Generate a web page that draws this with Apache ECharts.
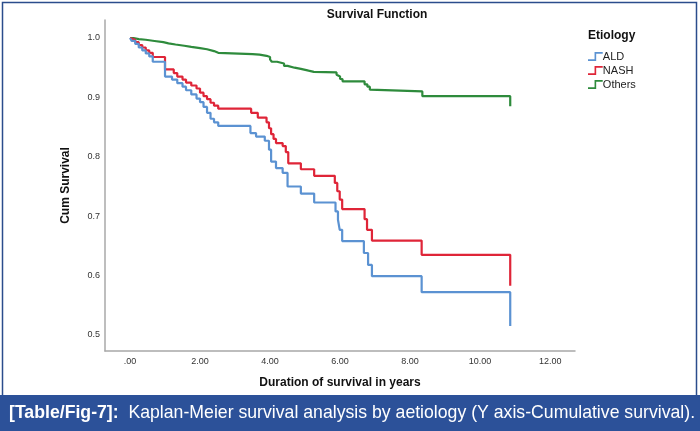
<!DOCTYPE html>
<html>
<head>
<meta charset="utf-8">
<script src="https://cdn.jsdelivr.net/npm/echarts@6/dist/echarts.min.js"></script>
<style>
html,body{margin:0;padding:0;background:#fff;}
#chart{width:700px;height:431px;}
</style>
</head>
<body>
<div id="chart"></div>
<script>
// ---- data (years, cumulative survival) ----
const seriesNames = ['ALD', 'NASH', 'Others'];
const aldTimes = [0, 0.05, 0.15, 0.25, 0.35, 0.45, 0.55, 0.65, 1.0, 1.2, 1.35, 1.5, 1.6, 1.75, 1.9, 2.0, 2.1, 2.2, 2.3, 2.4, 2.52, 3.44, 3.6, 3.85, 3.97, 4.03, 4.17, 4.36, 4.50, 4.88, 5.26, 5.87, 5.94, 5.99, 6.06, 6.68, 6.8, 6.91, 8.33, 10.86];
const aldSurv  = [1.0, 0.995, 0.990, 0.984, 0.979, 0.974, 0.969, 0.960, 0.935, 0.930, 0.924, 0.918, 0.912, 0.905, 0.898, 0.892, 0.884, 0.874, 0.864, 0.858, 0.852, 0.840, 0.834, 0.827, 0.812, 0.792, 0.781, 0.773, 0.750, 0.738, 0.723, 0.708, 0.694, 0.677, 0.658, 0.638, 0.618, 0.599, 0.572, 0.515];
const nashTimes = [0, 0.05, 0.15, 0.25, 0.35, 0.45, 0.55, 0.65, 1.0, 1.25, 1.35, 1.5, 1.6, 1.75, 1.9, 2.0, 2.1, 2.2, 2.3, 2.4, 2.52, 3.46, 3.65, 3.9, 3.97, 4.03, 4.1, 4.17, 4.36, 4.45, 4.52, 4.88, 5.26, 5.85, 5.92, 5.99, 6.06, 6.70, 6.77, 6.91, 8.33, 10.86];
const nashSurv  = [1.0, 0.997, 0.993, 0.988, 0.984, 0.979, 0.975, 0.968, 0.947, 0.941, 0.935, 0.930, 0.925, 0.920, 0.915, 0.908, 0.902, 0.897, 0.891, 0.886, 0.881, 0.874, 0.866, 0.858, 0.848, 0.838, 0.830, 0.823, 0.818, 0.808, 0.789, 0.779, 0.768, 0.756, 0.742, 0.728, 0.712, 0.695, 0.677, 0.659, 0.635, 0.583];
const othTimes = [0, 0.1, 0.25, 0.45, 0.7, 0.95, 1.1, 1.3, 1.55, 1.75, 2.0, 2.2, 2.4, 2.52, 3.5, 3.7, 3.9, 4.0, 4.05, 4.2, 4.4, 4.5, 4.7, 4.88, 5.1, 5.25, 5.9, 5.95, 6.0, 6.07, 6.7, 6.78, 6.85, 6.9, 8.35, 10.86];
const othSurv  = [1.0, 0.998, 0.997, 0.995, 0.993, 0.991, 0.989, 0.987, 0.985, 0.983, 0.981, 0.978, 0.975, 0.973, 0.972, 0.970, 0.968, 0.964, 0.960, 0.957, 0.953, 0.950, 0.948, 0.945, 0.943, 0.942, 0.938, 0.935, 0.931, 0.927, 0.922, 0.918, 0.913, 0.910, 0.902, 0.885];
const xTicks = [0, 2, 4, 6, 8, 10, 12];
const yTicks = [0.5, 0.6, 0.7, 0.8, 0.9, 1.0];

const colors = ['#5B92D2', '#DF2538', '#2E8B3C'];
const zip = (t, s) => t.map((v, i) => [v, s[i]]);
const stepIcon = 'path://M0,9 L8,9 L8,0 L18,0 L18,2 L10,2 L10,11 L0,11 Z';
const font = "'Liberation Sans', Arial, sans-serif";

const chart = echarts.init(document.getElementById('chart'), null, {renderer: 'canvas'});
chart.setOption({
  animation: false,
  backgroundColor: '#fff',
  title: [
    {text: 'Survival Function', left: 372, textAlign: 'center', top: 4,
     textStyle: {fontFamily: font, fontSize: 12, fontWeight: 'bold', color: '#111'}},
    {text: 'Etiology', left: 583, top: 25,
     textStyle: {fontFamily: font, fontSize: 12, fontWeight: 'bold', color: '#111'}}
  ],
  legend: {
    orient: 'vertical', left: 583, top: 46, itemWidth: 17, itemHeight: 9, itemGap: 3,
    textStyle: {fontFamily: font, fontSize: 11, color: '#222', padding: [0, 0, 0, -6]},
    data: seriesNames.map((n, i) => ({name: n, icon: stepIcon, itemStyle: {color: colors[i]}}))
  },
  grid: {left: 105, right: 125, top: 20, bottom: 80, containLabel: false},
  xAxis: {
    type: 'value', min: -0.714, max: 12.71,
    name: 'Duration of survival in years', nameLocation: 'middle', nameGap: 26,
    nameTextStyle: {fontFamily: font, fontSize: 12, fontWeight: 'bold', color: '#111'},
    axisLine: {show: true, onZero: false, lineStyle: {color: '#a8a8a8', width: 1.5}},
    axisTick: {show: false},
    splitLine: {show: false},
    axisLabel: {customValues: xTicks, fontFamily: font, fontSize: 9, color: '#333', margin: 6,
      formatter: v => v === 0 ? '.00' : v.toFixed(2)}
  },
  yAxis: {
    type: 'value', min: 0.473, max: 1.0303,
    name: 'Cum Survival', nameLocation: 'middle', nameGap: 33, nameRotate: 90,
    nameTextStyle: {fontFamily: font, fontSize: 12, fontWeight: 'bold', color: '#111'},
    axisLine: {show: true, onZero: false, lineStyle: {color: '#a8a8a8', width: 1.5}},
    axisTick: {show: false},
    splitLine: {show: false},
    axisLabel: {customValues: yTicks, fontFamily: font, fontSize: 9, color: '#333', margin: 5,
      formatter: v => v.toFixed(1)}
  },
  series: [
    {name: 'ALD', type: 'line', step: 'end', symbol: 'none', data: zip(aldTimes, aldSurv),
     lineStyle: {color: colors[0], width: 2.2}, itemStyle: {color: colors[0]}, z: 3},
    {name: 'NASH', type: 'line', step: 'end', symbol: 'none', data: zip(nashTimes, nashSurv),
     lineStyle: {color: colors[1], width: 2.2}, itemStyle: {color: colors[1]}, z: 2},
    {name: 'Others', type: 'line', step: 'end', symbol: 'none', data: zip(othTimes, othSurv),
     lineStyle: {color: colors[2], width: 2.2}, itemStyle: {color: colors[2]}, z: 1}
  ],
  graphic: [
    {type: 'rect', z: 100, shape: {x: 2.5, y: 2.5, width: 694, height: 400},
     style: {fill: null, stroke: '#2B4D8C', lineWidth: 1.5}},
    {type: 'rect', z: 101, shape: {x: 0, y: 395, width: 700, height: 36},
     style: {fill: '#2C5199'}},
    {type: 'text', z: 102, x: 9, y: 413, scaleX: 0.93,
     style: {
       text: '{b|[Table/Fig-7]:}  Kaplan-Meier survival analysis by aetiology (Y axis-Cumulative survival).',
       x: 0, y: 0, verticalAlign: 'middle',
       fill: '#fff', fontFamily: font, fontSize: 19,
       rich: {b: {fontWeight: 'bold', fill: '#fff', fontFamily: font, fontSize: 19}}
     }}
  ]
});
</script>
</body>
</html>
